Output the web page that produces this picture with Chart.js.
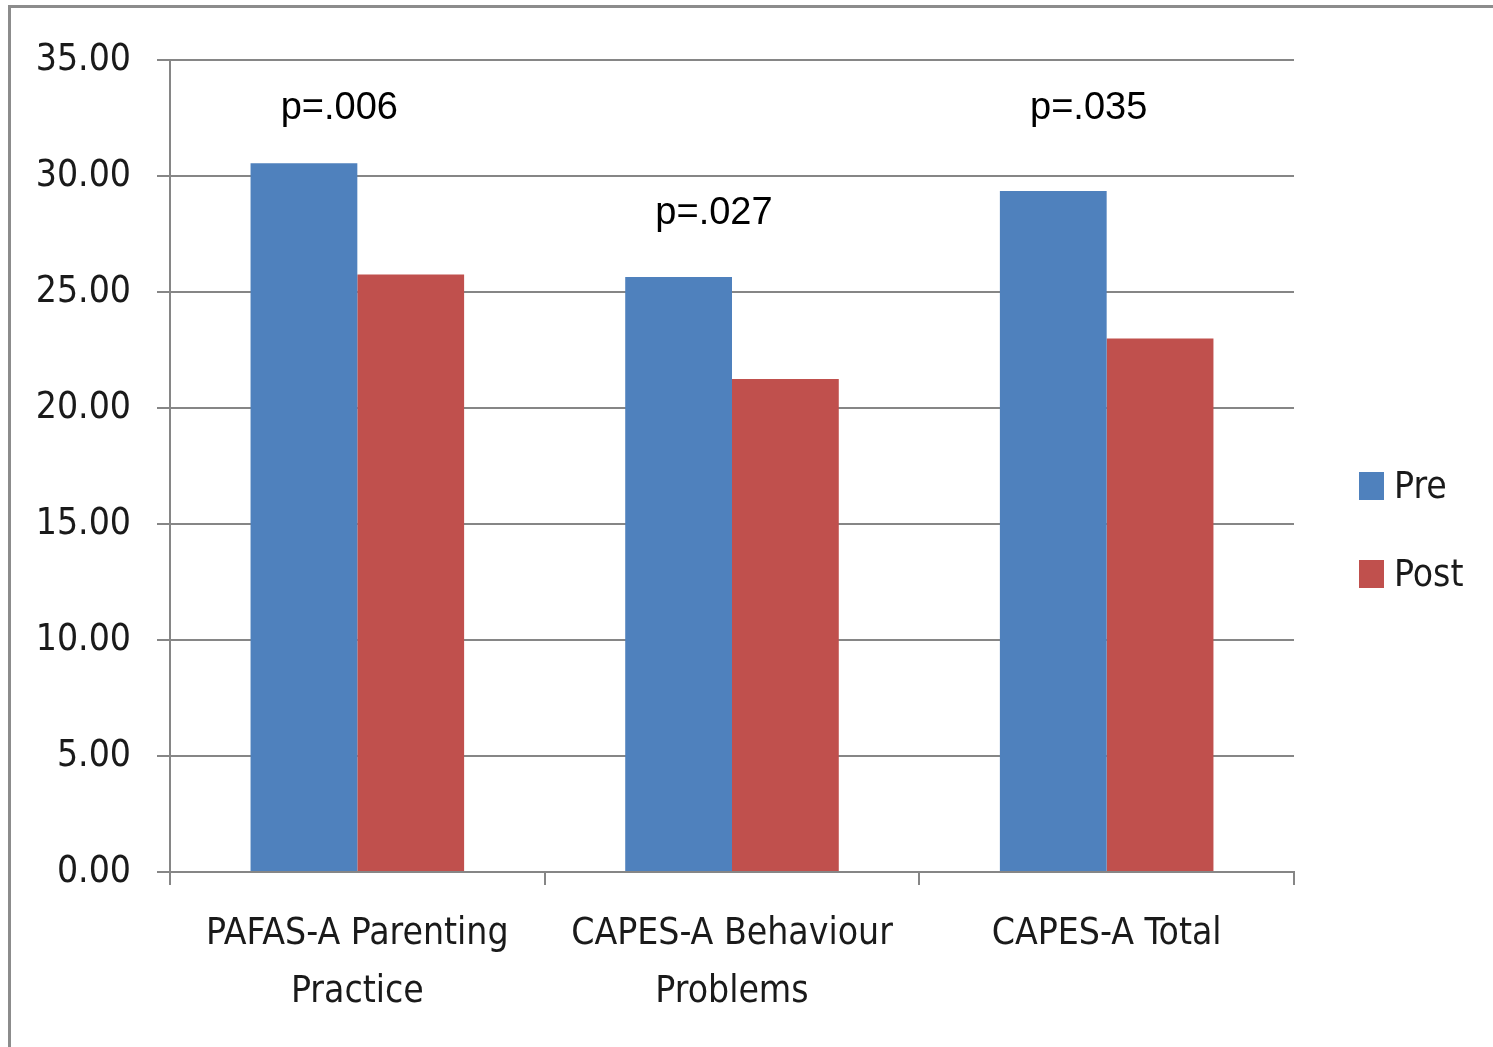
<!DOCTYPE html>
<html>
<head>
<meta charset="utf-8">
<script src="https://cdn.jsdelivr.net/npm/chart.js@4.4.1/dist/chart.umd.min.js"></script>
<style>
  html, body { margin: 0; padding: 0; background: #fff; }
  body { width: 1493px; height: 1047px; position: relative; overflow: hidden; }
  .frame {
    position: absolute; left: 8px; top: 5px; width: 1600px; height: 1200px;
    border-left: 3px solid #8c8c8c; border-top: 3px solid #8c8c8c;
  }
  #chart { position: absolute; left: 0; top: 0; }
  .legend { position: absolute; left: 1359px; top: 464px; font-family: 'DejaVu Sans Condensed', 'DejaVu Sans', sans-serif; font-size: 37px; color: #1a1a1a; }
  .legend div { height: 88px; display: flex; align-items: flex-start; }
  .legend span.box { display: inline-block; width: 25px; height: 28px; margin-right: 10px; margin-top: 8px; }
</style>
</head>
<body>
<div class="frame"></div>
<canvas id="chart" width="1493" height="1047"></canvas>
<div class="legend" id="legend"></div>
<script>
const categories = [['PAFAS-A Parenting', 'Practice'], ['CAPES-A Behaviour', 'Problems'], 'CAPES-A Total'];
const preValues = [30.55, 25.65, 29.35];
const postValues = [25.75, 21.25, 23.0];
const pLabels = ['p=.006', 'p=.027', 'p=.035'];
const pLabelLevels = [32.9, 28.4, 32.9];
const yTicks = [0, 5, 10, 15, 20, 25, 30, 35];

const seriesNames = ['Pre', 'Post'];
const seriesColors = ['#4f81bd', '#c0504d'];

const fontFamily = "'DejaVu Sans Condensed', 'DejaVu Sans', sans-serif";
const gridColor = '#868686';

// p-values written above each group
const pValuePlugin = {
  id: 'pValues',
  afterDatasetsDraw(chart) {
    const ctx = chart.ctx;
    const x = chart.scales.x, y = chart.scales.y;
    ctx.save();
    ctx.font = '38px "Liberation Sans", Arial, sans-serif';
    ctx.fillStyle = '#000';
    ctx.textAlign = 'center';
    ctx.textBaseline = 'middle';
    pLabels.forEach((txt, i) => {
      ctx.fillText(txt, x.getPixelForValue(i) - 18, y.getPixelForValue(pLabelLevels[i]));
    });
    ctx.restore();
  }
};

new Chart(document.getElementById('chart'), {
  type: 'bar',
  data: {
    labels: categories,
    datasets: [
      { label: seriesNames[0], data: preValues, backgroundColor: seriesColors[0] },
      { label: seriesNames[1], data: postValues, backgroundColor: seriesColors[1] }
    ]
  },
  options: {
    responsive: false,
    animation: false,
    layout: { padding: { left: 0, top: 60, right: 199, bottom: 0 } },
    datasets: { bar: { categoryPercentage: 0.57, barPercentage: 1 } },
    plugins: { legend: { display: false }, tooltip: { enabled: false } },
    scales: {
      x: {
        afterFit(scale) { scale.height = 175; },
        grid: { offset: true, drawOnChartArea: false, drawTicks: true, tickLength: 13, color: gridColor, lineWidth: 2 },
        border: { color: gridColor, width: 2 },
        ticks: { font: { family: fontFamily, size: 37, lineHeight: 1.57 }, color: '#1a1a1a', padding: 20, maxRotation: 0, autoSkip: false }
      },
      y: {
        min: 0, max: 35,
        afterFit(scale) { scale.width = 170; },
        afterBuildTicks(scale) { scale.ticks = yTicks.map(v => ({ value: v })); },
        grid: { color: gridColor, lineWidth: 2, tickLength: 13 },
        border: { color: gridColor, width: 2 },
        ticks: {
          font: { family: fontFamily, size: 37 }, color: '#1a1a1a', padding: 26,
          callback: v => v.toFixed(2)
        }
      }
    }
  },
  plugins: [pValuePlugin]
});

// legend on the right
const legend = document.getElementById('legend');
seriesNames.forEach((name, i) => {
  const row = document.createElement('div');
  row.innerHTML = '<span class="box" style="background:' + seriesColors[i] + '"></span>' + name;
  legend.appendChild(row);
});
</script>
</body>
</html>
